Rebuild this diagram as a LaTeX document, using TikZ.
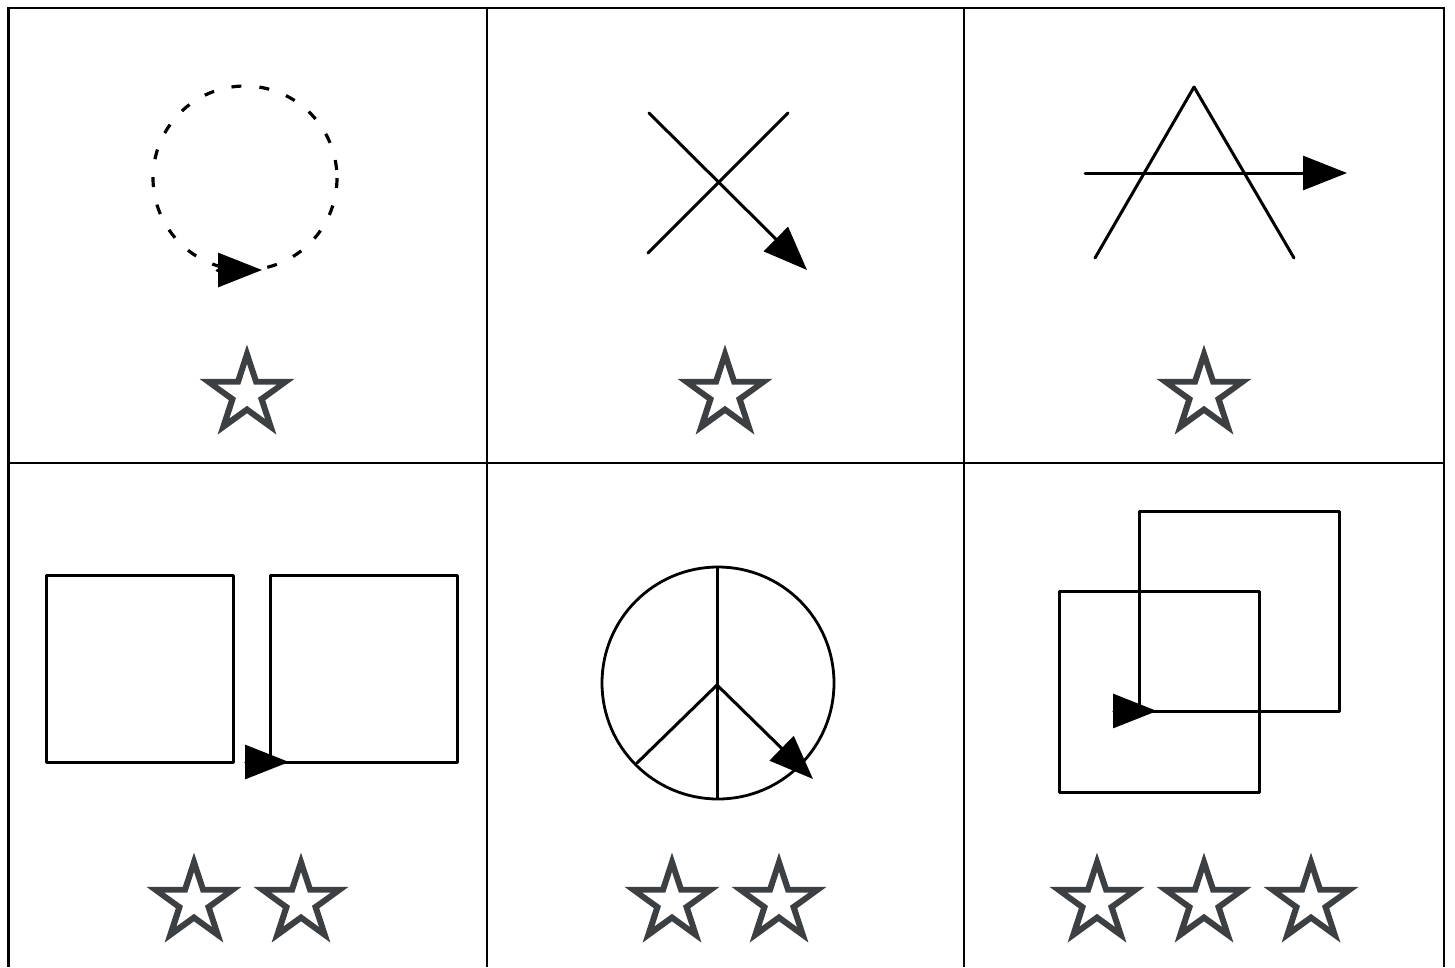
\documentclass[tikz,border=0pt]{standalone}
\usepackage{xcolor}
\usepackage{fontspec}
\newfontfamily\starfont[RawFeature={embolden=2.6}]{DejaVu Sans}
\usetikzlibrary{arrows.meta}
\definecolor{stargray}{HTML}{3C4043}

\begin{document}
\begin{tikzpicture}[x=1pt, y=-1pt,
  line/.style={line width=3pt, line join=round, line cap=round},
  tip/.style={-{Triangle[length=44pt, width=34pt]}},
  star/.style={font=\starfont\fontsize{112}{112}\selectfont, text=stargray, inner sep=0pt}
]
  \useasboundingbox (0,0) rectangle (1455,967);
  % grid
  \draw[line width=2.8pt] (8.5,967) -- (8.5,8) -- (1444,8) -- (1444,967);
  \draw[line width=2.8pt] (8.5,463) -- (1444,463);
  \draw[line width=2.8pt] (487,8) -- (487,967);
  \draw[line width=2.8pt] (964,8) -- (964,967);
  % circle
  \draw[line, line cap=butt, line width=3.2pt, dash pattern=on 10pt off 18pt] (245,178) circle (92);
  \draw[line, tip] (217,270) -- (262,270);
  % cross
  \draw[line] (788,113) -- (648,253);
  \draw[line, tip] (649,113) -- (807,270);
  % letter A
  \draw[line] (1095,258) -- (1194,87) -- (1294,258);
  \draw[line, tip] (1085,173) -- (1347,173);
  % two squares
  \draw[line] (46,575) rectangle (233,762);
  \draw[line] (270,575) rectangle (457,762);
  \draw[line, tip] (249,762) -- (289,762);
  % peace sign
  \draw[line, line width=2.8pt] (718,683) circle (116);
  \draw[line] (717,567) -- (717,798);
  \draw[line] (717,685) -- (637,763);
  \draw[line, tip] (717,685) -- (813,779);
  % overlapping squares
  \draw[line] (1059,591) rectangle (1259,792);
  \draw[line] (1139,511) rectangle (1339,711);
  \draw[line, tip] (1117,711) -- (1157,711);
  % stars
  \node[star] (s1a) at (247,390) {☆};
  \node[star] (s2a) at (725,390) {☆};
  \node[star] (s3a) at (1204,390) {☆};
  \node[star] (s4a) at (194,898) {☆};
  \node[star] (s4b) at (301,898) {☆};
  \node[star] (s5a) at (672,898) {☆};
  \node[star] (s5b) at (779,898) {☆};
  \node[star] (s6a) at (1097,898) {☆};
  \node[star] (s6b) at (1204,898) {☆};
  \node[star] (s6c) at (1311,898) {☆};
\end{tikzpicture}
\end{document}
